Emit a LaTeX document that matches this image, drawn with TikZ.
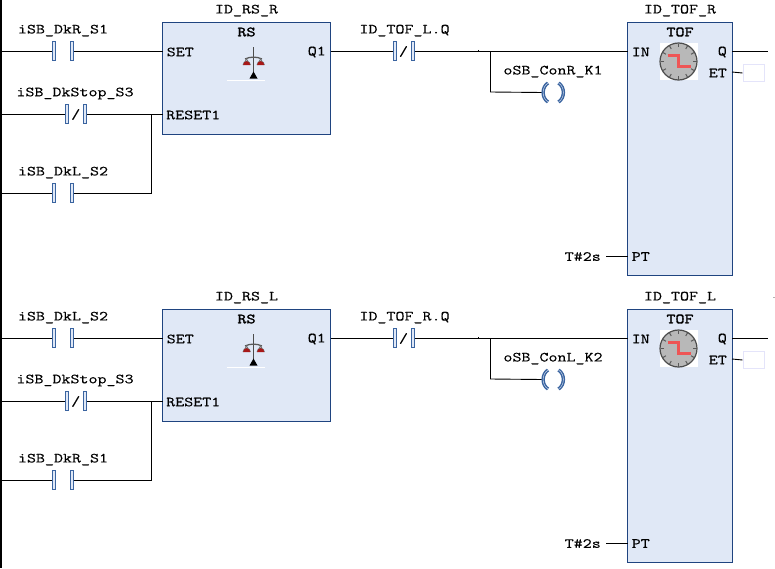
\documentclass[tikz,border=0pt]{standalone}
\usepackage{fontspec}
\setmainfont{Latin Modern Mono}[FakeStretch=1.25,FakeBold=0.35]
\newfontfamily\titlefont{Latin Modern Mono}[FakeStretch=1.25,FakeBold=2.2]
\definecolor{blockfill}{HTML}{E0E8F6}
\definecolor{blockline}{HTML}{1F4480}
\definecolor{barline}{HTML}{3A64A0}
\definecolor{etbox}{HTML}{E4E4FA}
\definecolor{clockgray}{HTML}{B8B8B8}
\definecolor{clockred}{HTML}{EE5555}
\definecolor{panred}{HTML}{A81818}
\tikzset{
  wire/.style={draw=black,line width=0.9pt},
  lab/.style={font=\fontsize{14}{14}\selectfont,inner sep=0pt,text=black},
  title/.style={lab,font=\fontsize{14}{14}\selectfont\titlefont},
  block/.style={draw=blockline,fill=blockfill,line width=1pt,inner sep=0pt},
  bar/.style={draw=barline,fill=blockfill,line width=1pt,inner sep=0pt,minimum width=3pt,minimum height=19pt},
  coilarc/.style={draw=barline,line width=1.5pt,double=blockfill,double distance=0.4pt},
}
\newcommand{\contactbars}[4]{% name, x1, x2, y
  \node[bar] (#1a) at (#2,#4) {};
  \node[bar] (#1b) at (#3,#4) {};
}
\newcommand{\rung}[9]{%
\begin{scope}[shift={(0,#2)}]
  % function blocks
  \node[block,minimum width=168pt,minimum height=111.5pt] (rs#1) at (246.5,78.25) {};
  \node[block,minimum width=104.5pt,minimum height=252.5pt] (tof#1) at (679.75,148.75) {};
  % pin coordinates
  \coordinate (rail1#1) at (2,51);
  \coordinate (rail2#1) at (2,114);
  \coordinate (rail3#1) at (2,193);
  \coordinate (set#1) at (162.5,51);
  \coordinate (reset#1) at (162.5,114);
  \coordinate (q1#1) at (330.5,51);
  \coordinate (in#1) at (627.5,51);
  \coordinate (q#1) at (732,51);
  \coordinate (et#1) at (732,72);
  \coordinate (pt#1) at (627.5,256);
  \coordinate (ptl#1) at (606,256);
  \coordinate (qend#1) at (768,51);
  \coordinate (jr#1) at (151,114);
  \coordinate (jb#1) at (151,193);
  \coordinate (jt#1) at (490.5,51);
  \coordinate (jc#1) at (490.5,92);
  \coordinate (tick#1) at (478,51);
  % contacts
  \contactbars{c1#1}{53.5}{71.5}{51}
  \contactbars{c2#1}{66.5}{85}{114}
  \contactbars{c3#1}{53.5}{71.5}{193}
  \contactbars{c4#1}{394.5}{412.5}{51}
  \node[lab] (s2#1) at (75.75,114.5) {/};
  \node[lab] (s4#1) at (403.5,51.5) {/};
  % wires
  \draw[wire] (rail1#1) -- (c1#1a.west);
  \draw[wire] (c1#1b.east) -- (set#1);
  \draw[wire] (rail2#1) -- (c2#1a.west);
  \draw[wire] (c2#1b.east) -- (reset#1);
  \draw[wire] (rail3#1) -- (c3#1a.west);
  \draw[wire] (c3#1b.east) -- (jb#1) -- (jr#1);
  \draw[wire] (q1#1) -- (c4#1a.west);
  \draw[wire] (c4#1b.east) -- (in#1);
  \draw[wire] (tick#1)++(0,-1.2) -- ++(0,2.4);
  \draw[wire] (ptl#1) -- (pt#1);
  \draw[wire] (q#1) -- (qend#1);
  % coil
  \node[inner sep=0pt,minimum width=5pt,minimum height=19pt] (coilL#1) at (545.5,92.5) {};
  \node[inner sep=0pt,minimum width=5pt,minimum height=19pt] (coilR#1) at (561,92.5) {};
  \draw[wire] (jt#1) -- (jc#1) -- (coilL#1.west);
  \draw[coilarc] (548,83) .. controls (541.5,87) and (541.5,98) .. (548,102);
  \draw[coilarc] (558.5,83) .. controls (565,87) and (565,98) .. (558.5,102);
  % ET box
  \node[draw=etbox,fill=white,line width=1pt,inner sep=0pt,minimum width=21pt,minimum height=17.5pt] (etb#1) at (753.5,73) {};
  \draw[wire] (et#1) -- (etb#1.west);
  % scale icon
  \draw[white,line width=1pt] (227,80) -- (265,80);
  \draw[black!70,line width=1pt] (253.5,47) -- (253.5,74);
  \draw[black!65,line width=1.3pt] (245,59) .. controls (250,56.5) and (257,56.5) .. (262,59);
  \draw[black!55,line width=0.8pt] (246.5,59) -- (243,65) arc[start angle=180,end angle=360,x radius=3.7,y radius=3.7] -- cycle;
  \draw[black!55,line width=0.8pt] (260.5,59) -- (257,65) arc[start angle=180,end angle=360,x radius=3.7,y radius=3.7] -- cycle;
  \fill[panred] (243.2,65) arc[start angle=180,end angle=360,x radius=3.5,y radius=3.8];
  \fill[panred] (257.2,65) arc[start angle=180,end angle=360,x radius=3.5,y radius=3.8];
  \fill[black] (249.5,78.5) -- (257.5,78.5) -- (253.5,71.5) -- cycle;
  % clock icon
  \fill[white] (660,42.5) rectangle (697.5,80);
  \fill[clockgray,draw=black!70,line width=1.2pt] (678.5,61.5) circle[radius=18.5];
  \foreach \a in {0,30,...,330}{\draw[black!65,line width=1pt] (678.5,61.5) ++(\a:14.5) -- ++(\a:3.5);}
  \draw[clockred,line width=2.2pt] (667.5,55.5) -- (678.5,55.5) -- (678.5,66.5) -- (690.5,66.5);
  % texts
  \node[lab] (n1#1) at (246.5,10.5) {#3};
  \node[title] (n2#1) at (246.5,32) {RS};
  \node[lab,anchor=west] (p1#1) at (166.5,52) {SET};
  \node[lab,anchor=west] (p2#1) at (166,115) {RESET1};
  \node[lab,anchor=east] (p3#1) at (326,52) {Q1};
  \node[lab] (l1#1) at (63,30.5) {#4};
  \node[lab] (l2#1) at (75,93.5) {iSB\_DkStop\_S3};
  \node[lab] (l3#1) at (63,172.5) {#5};
  \node[lab] (l4#1) at (404.5,30.5) {#6};
  \node[lab] (l5#1) at (553,71.5) {#7};
  \node[lab] (n3#1) at (680,10.5) {#8};
  \node[title] (n4#1) at (680,32) {TOF};
  \node[lab,anchor=west] (p4#1) at (631.5,52) {IN};
  \node[lab,anchor=east] (p5#1) at (727,52) {Q};
  \node[lab,anchor=east] (p6#1) at (727,73) {ET};
  \node[lab,anchor=west] (p7#1) at (631.5,256.5) {PT};
  \node[lab,anchor=east] (t#1) at (601,256.5) {#9};
\end{scope}}
\begin{document}
\begin{tikzpicture}[x=1pt,y=-1pt]
\useasboundingbox (0,0) rectangle (775,568);
\fill[white] (0,0) rectangle (775,568);
\fill[black] (0,0) rectangle (2,568);
\rung{R}{0}{ID\_RS\_R}{iSB\_DkR\_S1}{iSB\_DkL\_S2}{ID\_TOF\_L.Q}{oSB\_ConR\_K1}{ID\_TOF\_R}{T\#2s}
\rung{L}{287}{ID\_RS\_L}{iSB\_DkL\_S2}{iSB\_DkR\_S1}{ID\_TOF\_R.Q}{oSB\_ConL\_K2}{ID\_TOF\_L}{T\#2s}
\draw[black!30,line width=0.8pt] (773,297.5) -- (775,297.5);
\end{tikzpicture}
\end{document}
